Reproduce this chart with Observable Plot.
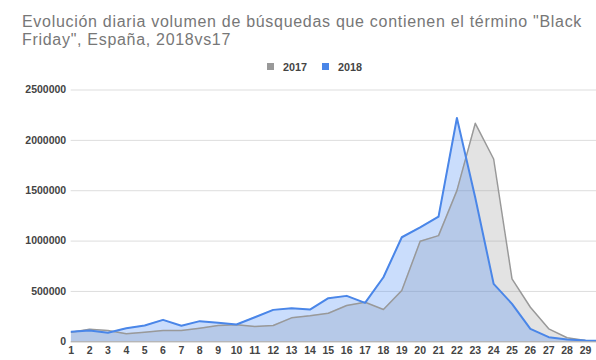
<!DOCTYPE html>
<html><head><meta charset="utf-8">
<script src="https://cdn.jsdelivr.net/npm/d3@7"></script>
<script src="https://cdn.jsdelivr.net/npm/@observablehq/plot@0.6"></script>
<style>
body{margin:0;background:#fff;}
#page{width:596px;font-family:"Liberation Sans",Arial,sans-serif;}
#header{position:relative;height:78px;}
.tl{position:absolute;left:22px;font-size:16px;letter-spacing:0.7px;line-height:18px;height:18px;color:#777;white-space:nowrap;}
.lg{position:absolute;top:61px;font-size:10.8px;font-weight:bold;color:#444;line-height:12px;}
.sw{position:absolute;top:63px;width:7px;height:7px;}
</style></head>
<body><div id="page">
<div id="header">
<div class="tl" style="top:12.8px;">Evolución diaria volumen de búsquedas que contienen el término "Black</div>
<div class="tl" style="top:30.8px;">Friday", España, 2018vs17</div>
<div class="sw" style="left:267px;background:#999;"></div><div class="lg" style="left:283px;">2017</div>
<div class="sw" style="left:322px;background:#4a86e8;"></div><div class="lg" style="left:338px;">2018</div>
</div>
<div id="chart"></div>
</div>
<script>
const days = [1,2,3,4,5,6,7,8,9,10,11,12,13,14,15,16,17,18,19,20,21,22,23,24,25,26,27,28,29,30];
const v2017 = [95000,125000,112000,79000,95000,112000,112000,135000,162000,169000,152000,162000,238000,258000,284000,360000,393000,320000,509000,998000,1054000,1501000,2169000,1815000,625000,343000,129000,40000,13000,5000];
const v2018 = [100000,112000,90000,135000,162000,218000,159000,205000,188000,172000,244000,317000,333000,320000,433000,456000,387000,641000,1038000,1137000,1243000,2222000,1430000,575000,377000,129000,46000,23000,13000,8000];
const yTicks = [0,500000,1000000,1500000,2000000,2500000];
const xTicks = days.slice(0,29);

const d17 = days.map((d,i)=>({day:d, v:v2017[i]}));
const d18 = days.map((d,i)=>({day:d, v:v2018[i]}));

const chart = Plot.plot({
  width:596, height:282,
  marginTop:11.5, marginBottom:18.7, marginLeft:70.7, marginRight:0,
  style:{fontFamily:"'Liberation Sans',Arial,sans-serif", fontSize:"10.5px", color:"#444", background:"transparent"},
  x:{domain:[1,29.6], ticks:xTicks, tickSize:0, tickPadding:5, tickFormat:d=>String(d), label:null},
  y:{domain:[0,2500000], ticks:yTicks, tickSize:0, tickPadding:5, tickFormat:d=>String(d), label:null, grid:false},
  marks:[
    Plot.gridY(yTicks.slice(1), {stroke:"#ddd", strokeOpacity:1, strokeWidth:1}),
    Plot.areaY(d17, {x:"day", y:"v", fill:"#999", fillOpacity:0.28, clip:true}),
    Plot.areaY(d18, {x:"day", y:"v", fill:"#4285f4", fillOpacity:0.28, clip:true}),
    Plot.ruleY([0], {stroke:"#999", strokeWidth:1}),
    Plot.lineY(d17, {x:"day", y:"v", stroke:"#999", strokeWidth:1.5, clip:true}),
    Plot.lineY(d18, {x:"day", y:"v", stroke:"#4a86e8", strokeWidth:2, clip:true}),
    Plot.axisY({ticks:yTicks, tickSize:0, tickPadding:5, tickFormat:d=>String(d), fontWeight:"bold", fill:"#444", label:null}),
    Plot.axisX({ticks:xTicks, tickSize:0, tickPadding:5, tickFormat:d=>String(d), fontWeight:"bold", fill:"#444", label:null})
  ]
});
document.getElementById("chart").appendChild(chart);
</script>
</body></html>
